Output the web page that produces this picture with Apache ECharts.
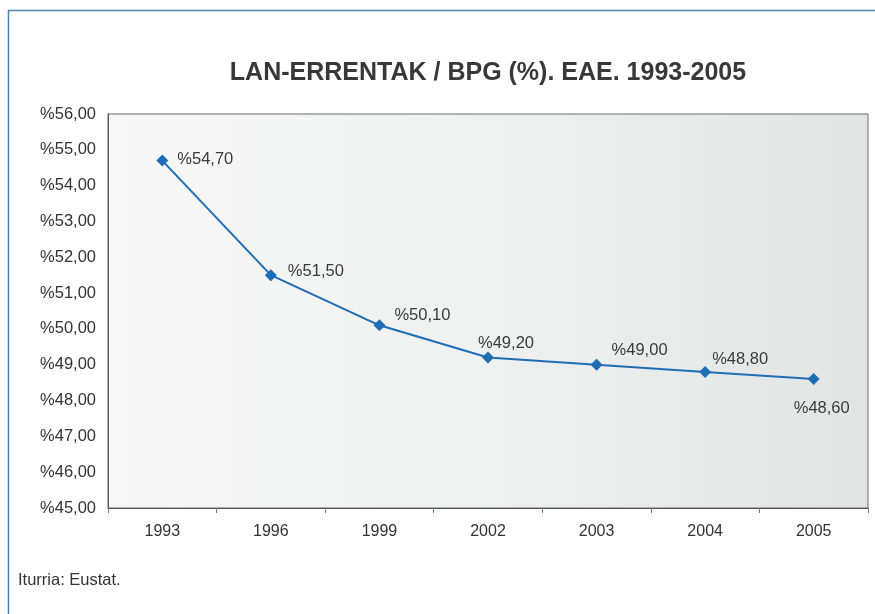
<!DOCTYPE html>
<html>
<head>
<meta charset="utf-8">
<script src="https://cdn.jsdelivr.net/npm/echarts@6/dist/echarts.min.js"></script>
<style>
  html, body { margin: 0; padding: 0; background: #fff; }
  #main { width: 875px; height: 614px; }
</style>
</head>
<body>
<div id="main"></div>
<script>
var years = ['1993', '1996', '1999', '2002', '2003', '2004', '2005'];
var ratio = [54.70, 51.50, 50.10, 49.20, 49.00, 48.80, 48.60];

var fmt = function (v) {
    return '%' + v.toFixed(2).replace('.', ',');
};

// donde va cada etiqueta respecto al punto
var labelPlace = [
    { position: 'right', offset: [4, -1] },
    { position: 'right', offset: [6, -4] },
    { position: 'right', offset: [4, -10] },
    { position: 'top', offset: [18, 5] },
    { position: 'top', offset: [43, 5] },
    { position: 'top', offset: [35, 7] },
    { position: 'bottom', offset: [8, 10] }
];

var chartDom = document.getElementById('main');
var myChart = echarts.init(chartDom);
var option;

option = {
    animation: false,
    textStyle: { fontFamily: 'Liberation Sans, Arial, sans-serif' },
    title: {
        text: 'LAN-ERRENTAK / BPG (%). EAE. 1993-2005',
        left: 483,
        top: 56,
        textAlign: 'center',
        textStyle: { fontSize: 25, fontWeight: 'bold', color: '#383838', fontFamily: 'Liberation Sans, Arial, sans-serif' }
    },
    grid: {
        left: 108,
        right: 7,
        top: 114,
        bottom: 106,
        show: true,
        borderColor: '#6a6a6a',
        borderWidth: 1,
        backgroundColor: new echarts.graphic.LinearGradient(0, 0, 1, 0, [
            { offset: 0, color: '#f8f8f8' },
            { offset: 0.5, color: '#eff0f0' },
            { offset: 1, color: '#e2e4e4' }
        ])
    },
    xAxis: {
        type: 'category',
        data: years,
        boundaryGap: true,
        axisLine: { lineStyle: { color: '#555' } },
        axisTick: { show: true, length: 5, lineStyle: { color: '#777' } },
        axisLabel: { fontSize: 16, color: '#333', margin: 16 }
    },
    yAxis: {
        type: 'value',
        min: 45,
        max: 56,
        interval: 1,
        splitLine: { show: false },
        axisLine: { show: true, lineStyle: { color: '#555' } },
        axisTick: { show: false },
        axisLabel: { fontSize: 16.5, color: '#333', margin: 12, formatter: fmt }
    },
    series: [{
        type: 'line',
        data: ratio.map(function (v, i) {
            return {
                value: v,
                label: {
                    position: labelPlace[i].position,
                    offset: labelPlace[i].offset
                }
            };
        }),
        symbol: 'diamond',
        symbolSize: 12,
        lineStyle: { color: '#1f6db5', width: 2 },
        itemStyle: { color: '#1f6db5' },
        label: {
            show: true,
            fontSize: 16.5,
            color: '#3a3a3a',
            formatter: function (p) { return fmt(p.value); }
        }
    }],
    graphic: [{
        type: 'rect',
        shape: { x: 8.5, y: 10.5, width: 900, height: 700 },
        style: { fill: 'none', stroke: '#4a86b8', lineWidth: 1.5 },
        silent: true
    }, {
        // fuente, abajo a la izquierda
        type: 'text',
        left: 18,
        top: 572,
        style: { text: 'Iturria: Eustat.', fontSize: 16.5, fill: '#333', fontFamily: 'Liberation Sans, Arial, sans-serif' },
        silent: true
    }]
};

option && myChart.setOption(option);
</script>
</body>
</html>
